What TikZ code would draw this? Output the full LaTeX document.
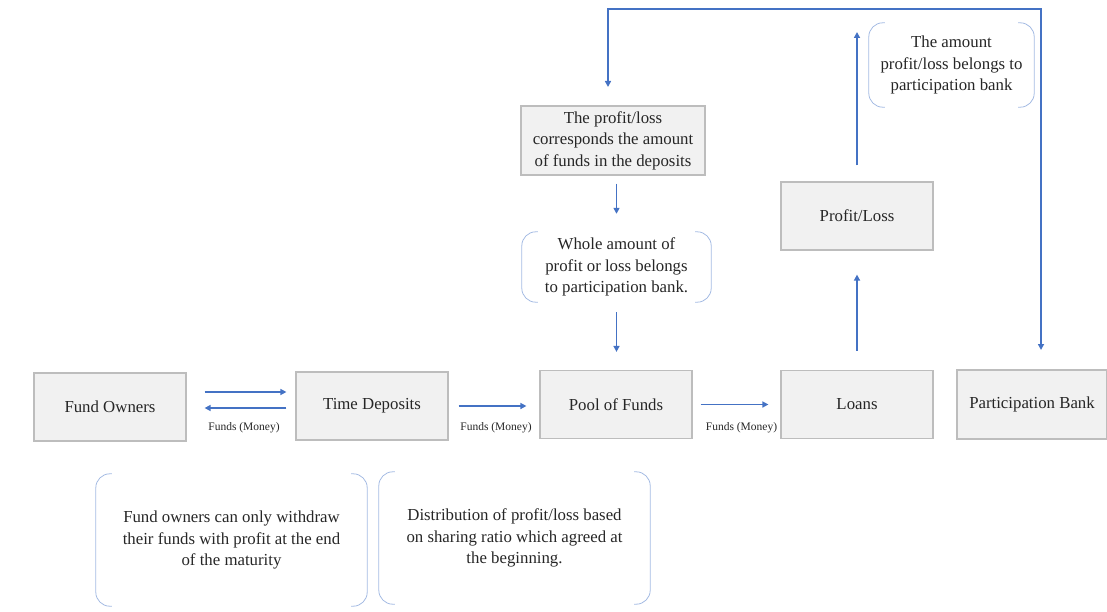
\documentclass[tikz,border=0pt]{standalone}
\usepackage{fontspec}
\setmainfont{Liberation Serif}
\newfontfamily\timesfont{Liberation Serif}
\usetikzlibrary{arrows.meta,calc}
\definecolor{arrowblue}{HTML}{4472C4}
\definecolor{bracketblue}{HTML}{A4BBE3}
\definecolor{boxfill}{HTML}{F1F1F1}
\definecolor{boxdraw}{HTML}{BDBDBD}
\definecolor{textdark}{HTML}{262626}
\begin{document}
\begin{tikzpicture}[x=1pt,y=-1pt,
  box/.style={draw=boxdraw, fill=boxfill, line width=1.2pt, minimum width=152pt,
    minimum height=68pt, inner sep=0pt, align=center, text=textdark, font=\timesfont\fontsize{16.8}{21.5}\selectfont},
  note/.style={inner sep=0pt, align=center, text=textdark, font=\timesfont\fontsize{16.8}{21.5}\selectfont},
  flowlabel/.style={inner sep=0pt, text=textdark, font=\timesfont\fontsize{11.5}{13}\selectfont},
  arr/.style={draw=arrowblue, line width=1.5pt, -{Triangle[length=6pt,width=6pt]}},
  dblarr/.style={draw=arrowblue, line width=1.5pt, {Triangle[length=6pt,width=6pt]}-{Triangle[length=6pt,width=6pt]}},
  bracket/.style={draw=bracketblue, line width=0.8pt, rounded corners=14pt}]
\useasboundingbox (0,0) rectangle (1107,612);

% main boxes
\node[box] (fo)    at (110,407)   {Fund Owners};
\node[box] (td)    at (372,406)   {Time Deposits};
\node[box] (pool)  at (616,404.5) {Pool of Funds};
\node[box] (loans) at (857,404.5) {Loans};
\node[box, minimum width=150pt, minimum height=69pt] (pb) at (1032,404.5) {Participation Bank};
\node[box] (pl)    at (857,216)   {Profit/Loss};
\node[box, minimum width=184pt, minimum height=69pt] (top) at (613,140.5)
  {The profit/loss\\corresponds the amount\\of funds in the deposits};

% bracket notes (frames only)
\node[note, minimum width=189pt, minimum height=70pt] (whole) at (616.5,267)
  {Whole amount of\\profit or loss belongs\\to participation bank.};
\node[note, minimum width=165pt, minimum height=84pt] (amount) at (951.5,65)
  {The amount\\profit/loss belongs to\\participation bank};
\node[note, minimum width=271pt, minimum height=132pt] (owners) at (231.5,540)
  {Fund owners can only withdraw\\their funds with profit at the end\\of the maturity};
\node[note, minimum width=271pt, minimum height=132pt] (distr) at (514.5,538)
  {Distribution of profit/loss based\\on sharing ratio which agreed at\\the beginning.};

\foreach \n in {whole,amount,owners,distr}{
  \draw[bracket] ([xshift=16pt]\n.north west) -- (\n.north west) -- (\n.south west) -- ([xshift=16pt]\n.south west);
  \draw[bracket] ([xshift=-16pt]\n.north east) -- (\n.north east) -- (\n.south east) -- ([xshift=-16pt]\n.south east);
}

% flows
\draw[arr, shorten <=18pt, shorten >=9pt] ([yshift=15pt]fo.east) -- ([yshift=15pt]fo.east -| td.west);
\draw[arr, shorten <=9pt, shorten >=18pt] ([yshift=-2pt]td.west) -- ([yshift=-2pt]td.west -| fo.east);
\node[flowlabel] (l1) at ($(fo.east)!0.5!(td.west)+(3,21.5)$) {Funds (Money)};

\draw[arr, shorten <=10pt, shorten >=13pt] (td.east) -- (td.east -| pool.west);
\node[flowlabel] (l2) at ($(td.east)!0.5!(pool.west)+(2,22)$) {Funds (Money)};

\draw[arr, shorten <=8pt, shorten >=12pt] (pool.east) -- (pool.east -| loans.west);
\node[flowlabel] (l3) at ($(pool.east)!0.5!(loans.west)+(5,23.5)$) {Funds (Money)};

\draw[arr, shorten <=19pt, shorten >=24pt] (loans.north) -- (pl.south);
\coordinate (plup) at (857,32);
\draw[arr, shorten <=16pt] (pl.north) -- (plup);

\draw[arr, shorten <=8pt, shorten >=18pt] (top.south -| whole.north) -- (whole.north);
\draw[arr, shorten <=10pt, shorten >=18pt] (whole.south) -- (whole.south |- pool.north);

% feedback loop
\coordinate (tl) at (608,9);
\coordinate (tr) at (1041,9);
\draw[dblarr] (608,87) -- (tl) -- (tr) -- (1041,350);
\end{tikzpicture}
\end{document}
